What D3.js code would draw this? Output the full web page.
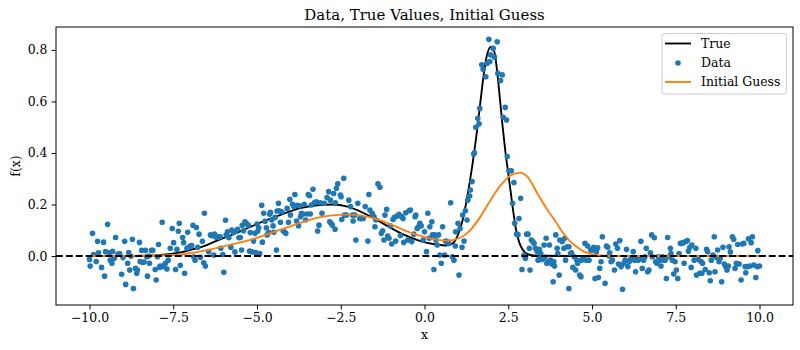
<!DOCTYPE html>
<html>
<head>
<meta charset="utf-8">
<script src="https://cdn.jsdelivr.net/npm/d3@7"></script>
<style>
  html, body { margin: 0; padding: 0; background: #fff; }
  svg { display: block; }
  text { font-family: "DejaVu Serif", serif; }
</style>
</head>
<body>
<div id="chart"></div>
<script>
// ---------------- data ----------------
const chartTitle = "Data, True Values, Initial Guess";
const xLabel = "x";
const yLabel = "f(x)";
const xTicks = [-10, -7.5, -5, -2.5, 0, 2.5, 5, 7.5, 10];
const yTicks = [0.0, 0.2, 0.4, 0.6, 0.8];
const legendLabels = ["True", "Data", "Initial Guess"];

// noisy observations [x, f(x)]
const dataPoints = [
[-10.00,-0.013],[-9.91,0.088],[-9.98,-0.039],[-9.88,0.006],[-9.80,-0.021],[-9.76,0.057],[-9.73,0.013],[-9.64,-0.044],[-9.58,0.054],[-9.55,-0.078],
[-9.52,0.017],[-9.46,0.123],[-9.40,0.013],[-9.38,-0.016],[-9.33,-0.028],[-9.31,0.018],[-9.26,-0.009],[-9.22,0.072],[-9.15,0.008],[-9.10,0.010],
[-9.04,-0.071],[-9.00,-0.006],[-8.95,0.057],[-8.92,-0.110],[-8.86,-0.028],[-8.83,0.014],[-8.80,-0.054],[-8.76,-0.001],[-8.72,0.065],[-8.69,-0.126],
[-8.63,-0.048],[-8.59,-0.067],[-8.57,-0.054],[-8.51,0.053],[-8.49,-0.021],[-8.44,0.022],[-8.41,-0.025],[-8.37,-0.023],[-8.33,0.022],[-8.29,-0.003],
[-8.27,-0.078],[-8.23,0.000],[-8.21,-0.028],[-8.15,0.022],[-8.11,0.022],[-8.04,-0.052],[-8.01,-0.093],[-7.97,-0.003],[-7.94,0.045],[-7.91,-0.044],
[-7.89,-0.039],[-7.83,0.131],[-7.81,-0.041],[-7.77,-0.035],[-7.73,-0.028],[-7.69,-0.050],[-7.65,-0.016],[-7.59,0.030],[-7.53,0.107],[-7.49,0.052],
[-7.43,-0.052],[-7.39,0.026],[-7.35,0.096],[-7.32,0.127],[-7.29,-0.036],[-7.22,0.072],[-7.19,0.052],[-7.16,-0.067],[-7.09,0.030],[-7.07,0.092],
[-7.03,0.034],[-6.99,0.039],[-6.95,0.041],[-6.91,0.119],[-6.89,-0.003],[-6.85,-0.016],[-6.81,0.111],[-6.77,0.034],[-6.73,0.085],[-6.69,-0.005],
[-6.63,0.057],[-6.57,0.166],[-6.59,-0.026],[-6.54,-0.039],
[-6.44,0.017],[-6.39,0.082],[-6.34,0.079],[-6.29,0.004],[-6.27,0.085],[-6.24,0.078],[-6.21,0.072],[-6.18,0.072],[-6.15,0.075],[-6.10,0.075],
[-6.08,0.030],[-6.02,0.006],[-5.99,-0.063],[-5.94,0.139],[-5.92,0.082],[-5.88,0.094],[-5.84,0.071],[-5.78,0.034],[-5.75,0.101],[-5.70,0.091],
[-5.66,0.016],[-5.62,0.096],[-5.58,0.104],[-5.54,0.071],[-5.50,0.072],[-5.46,0.023],[-5.44,0.119],[-5.40,0.098],[-5.36,0.133],[-5.32,0.127],
[-5.26,0.120],[-5.22,0.019],[-5.20,0.091],[-5.15,0.016],[-5.10,0.058],[-5.06,0.088],[-5.04,0.014],[-5.00,0.124],[-4.98,0.096],[-4.95,0.110],
[-4.92,0.010],[-4.86,0.197],[-4.84,0.054],[-4.80,0.166],[-4.76,0.135],[-4.72,0.110],[-4.70,0.082],[-4.65,0.091],[-4.62,0.162],[-4.60,0.170],
[-4.56,0.140],[-4.52,0.117],[-4.50,0.092],[-4.46,0.150],[-4.42,0.023],[-4.40,0.175],[-4.36,0.205],[-4.34,0.176],[-4.30,0.131],[-4.26,0.172],
[-4.22,0.098],[-4.18,0.093],[-4.14,0.088],[-4.10,0.185],[-4.06,0.131],[-4.02,0.220],[-4.00,0.159],[-3.94,0.201],[-3.90,0.192],[-3.87,0.239],
[-3.82,0.136],[-3.80,0.197],[-3.76,0.117],[-3.73,0.195],[-3.70,0.153],[-3.67,0.166],[-3.63,0.162],[-3.59,0.201],[-3.55,0.140],[-3.51,0.163],
[-3.47,0.239],[-3.43,0.234],[-3.41,0.163],[-3.38,0.198],[-3.33,0.259],[-3.29,0.207],[-3.23,0.211],[-3.19,0.097],[-3.15,0.120],[-3.11,0.207],
[-3.06,0.166],[-2.99,0.205],
[-2.91,0.227],[-2.86,0.250],[-2.81,0.217],[-2.71,0.243],[-2.66,0.207],[-2.63,0.263],[-2.59,0.280],[-2.51,0.237],[-2.49,0.230],[-2.41,0.302],
[-2.83,0.133],[-2.79,0.127],[-2.75,0.120],[-2.67,0.104],[-2.47,0.142],[-2.39,0.159],[-2.33,0.159],[-2.26,0.217],[-2.21,0.192],[-2.15,0.159],
[-2.13,0.136],[-2.08,0.159],[-2.05,0.062],[-1.99,0.205],[-1.93,0.146],[-1.89,0.146],[-1.83,0.146],[-1.77,0.192],[-1.69,0.058],[-1.66,0.239],
[-1.63,0.179],[-1.56,0.166],[-1.51,0.153],[-1.48,0.114],[-1.45,0.140],[-1.39,0.280],[-1.33,0.267],[-1.29,0.088],[-1.25,0.098],[-1.21,0.062],
[-1.18,0.159],[-1.13,0.181],[-1.10,0.078],[-1.06,0.069],[-1.02,0.117],[-0.98,0.047],[-0.94,0.142],[-0.90,0.150],[-0.86,0.058],[-0.82,0.155],
[-0.76,0.162],[-0.72,0.080],[-0.68,0.153],[-0.64,0.146],[-0.62,0.053],[-0.56,0.168],[-0.50,0.062],[-0.46,0.176],[-0.42,0.179],[-0.38,0.056],
[-0.32,0.085],[-0.28,0.153],[-0.26,0.159],[-0.22,0.107],[-0.18,0.114],[-0.14,0.127],[-0.10,0.117],[-0.04,0.062],[0.00,0.094],[0.06,0.017],
[0.10,0.166],[0.14,0.069],[0.16,0.114],[0.22,0.133],[0.24,0.082],[0.28,-0.052],[0.30,0.082],[0.34,0.062],[0.38,0.043],[0.42,0.082],
[0.46,0.004],[0.50,-0.028],[0.54,0.114],[0.60,0.004],
[0.63,0.058],[0.68,0.056],[0.73,0.049],[0.78,0.207],[0.83,-0.003],[0.88,-0.016],[0.92,0.039],[0.93,0.094],[1.00,0.127],[1.03,-0.074],
[1.06,0.107],[1.12,0.034],[1.14,0.159],[1.18,0.058],[1.22,0.176],[1.27,0.140],[1.29,0.217],[1.35,0.233],[1.37,0.256],[1.42,0.289],
[1.47,0.396],[1.49,0.401],[1.53,0.500],[1.59,0.535],[1.63,0.513],[1.65,0.573],[1.71,0.742],[1.75,0.725],[1.83,0.696],[1.87,0.748],
[1.92,0.841],[1.95,0.755],[1.97,0.781],[2.05,0.806],[2.09,0.772],[2.17,0.832],[2.19,0.709],[2.27,0.681],[2.32,0.703],[2.35,0.539],
[2.41,0.577],[2.45,0.528],[2.47,0.386],
[2.52,0.331],[2.59,0.331],[2.67,0.285],[2.63,0.205],[2.69,0.127],[2.75,0.085],[2.82,0.146],[2.87,0.224],[2.79,0.083],[2.91,-0.052],
[2.97,0.004],[3.01,-0.009],[3.05,0.085],[3.09,0.085],[3.13,0.030],[3.15,-0.054],[3.19,0.062],[3.23,0.056],[3.27,0.049],[3.31,0.030],
[3.35,0.023],[3.37,0.017],[3.39,-0.016],[3.43,0.026],[3.45,-0.009],[3.47,0.010],[3.51,-0.013],[3.55,-0.009],[3.57,0.043],[3.59,-0.005],
[3.63,0.069],[3.65,-0.028],[3.69,-0.022],[3.73,0.043],[3.76,-0.016],[3.80,-0.031],[3.84,-0.100],[3.86,-0.022],[3.88,-0.039],[3.92,0.082],
[3.96,0.030],[3.98,0.010],[4.02,-0.074],[4.04,0.062],
[4.11,0.056],[4.16,0.030],[4.19,0.069],[4.21,-0.016],[4.26,0.036],[4.31,0.036],[4.31,-0.126],[4.36,0.010],[4.39,0.013],[4.43,-0.044],
[4.47,-0.003],[4.51,-0.054],[4.55,-0.016],[4.57,-0.028],[4.63,-0.074],[4.67,-0.080],[4.69,-0.016],[4.73,-0.009],[4.79,0.049],[4.83,-0.016],
[4.87,0.039],[4.91,-0.016],[4.96,0.023],[5.01,0.023],[5.05,0.034],[5.09,0.026],[5.09,-0.087],[5.13,0.017],[5.17,0.032],[5.19,-0.083],
[5.23,-0.048],[5.27,-0.022],[5.31,0.075],[5.39,-0.106],[5.43,0.039],[5.47,0.034],[5.51,0.000],[5.53,0.013],[5.57,-0.022],[5.61,-0.016],
[5.67,-0.054],[5.71,0.047],[5.76,0.030],[5.79,-0.031],[5.83,0.060],[5.87,-0.041],[5.91,-0.129],[5.95,-0.028],[5.99,-0.016],[6.03,0.026],
[6.07,-0.041],[6.11,-0.022],[6.15,-0.013],[6.19,-0.009],[6.23,0.017],[6.27,-0.016],[6.30,-0.061],[6.34,-0.009],[6.38,-0.016],[6.42,-0.009],
[6.46,0.057],[6.50,-0.048],[6.54,-0.016],[6.58,-0.003],[6.62,0.030],[6.66,-0.061],[6.70,-0.054],[6.74,0.013],[6.78,0.082],[6.80,-0.003],
[6.86,0.071],[6.90,-0.022],[6.94,-0.028],[6.98,-0.003],[7.02,-0.016],[7.06,-0.039],[7.10,-0.003],[7.14,-0.016],[7.18,-0.016],[7.22,-0.087],
[7.26,0.072],[7.30,-0.003],[7.34,0.030],[7.36,0.010],[7.40,-0.016],[7.44,-0.070],[7.48,-0.022],[7.52,-0.054],[7.56,-0.087],[7.60,0.010],
[7.64,0.049],
[7.68,0.049],[7.72,0.052],[7.75,-0.028],[7.80,0.056],[7.85,0.060],[7.88,0.019],[7.92,0.034],[7.96,-0.044],[7.98,0.043],[8.05,-0.016],
[8.10,0.030],[8.12,-0.074],[8.18,-0.013],[8.22,-0.067],[8.26,-0.022],[8.28,-0.067],[8.30,-0.028],[8.38,-0.052],[8.42,0.026],[8.45,0.017],
[8.50,-0.065],[8.53,-0.096],[8.56,-0.016],[8.61,0.004],[8.65,0.075],[8.67,-0.061],[8.71,-0.005],[8.75,0.023],[8.79,-0.022],[8.83,-0.009],
[8.87,-0.100],[8.91,0.034],[8.95,-0.031],[8.99,-0.041],[9.03,-0.054],[9.07,-0.039],[9.09,0.036],[9.13,0.016],[9.19,0.075],[9.23,0.065],
[9.27,-0.048],[9.31,-0.028],[9.35,0.045],[9.39,-0.031],[9.45,-0.093],[9.49,0.047],[9.53,0.049],[9.57,-0.041],[9.59,-0.065],[9.63,-0.041],
[9.67,0.067],[9.71,-0.039],[9.75,0.052],[9.79,0.075],[9.83,-0.035],[9.89,-0.083],[9.93,-0.041],[9.95,0.021],[10.00,-0.039]
];

// true function [x, f(x)]
const trueCurve = [
[-10,0.000],[-9,0.000],[-8.3,0.001],[-7.8,0.005],[-7.3,0.014],[-6.9,0.027],[-6.54,0.040],[-6.19,0.060],
[-5.7,0.085],[-5.2,0.113],[-4.7,0.140],[-4.2,0.165],[-3.71,0.186],[-3.21,0.197],[-2.75,0.200],[-2.3,0.192],
[-1.9,0.172],[-1.5,0.146],[-1.1,0.116],[-0.62,0.083],[-0.12,0.058],[0.38,0.044],[0.63,0.041],[0.83,0.048],
[0.98,0.076],[1.13,0.135],[1.27,0.225],[1.42,0.345],[1.57,0.489],[1.67,0.599],[1.77,0.706],[1.87,0.783],
[1.99,0.813],[2.09,0.790],[2.17,0.715],[2.25,0.612],[2.33,0.505],[2.41,0.410],[2.49,0.330],[2.57,0.252],
[2.65,0.172],[2.73,0.104],[2.83,0.052],[2.95,0.021],[3.1,0.006],[3.4,0.001],[5,0.000],[10,0.000]
];

// initial guess [x, f(x)]
const guessCurve = [
[-10,0.000],[-8.5,0.001],[-7.5,0.004],[-7.0,0.011],[-6.54,0.022],[-6.19,0.032],[-5.7,0.047],[-5.2,0.063],
[-4.7,0.084],[-4.2,0.106],[-3.71,0.129],[-3.21,0.148],[-2.75,0.158],[-2.4,0.161],[-2.11,0.160],[-1.61,0.150],
[-1.1,0.128],[-0.62,0.101],[-0.12,0.078],[0.38,0.063],[0.7,0.060],[1.08,0.072],[1.37,0.101],[1.67,0.153],
[1.97,0.217],[2.27,0.274],[2.57,0.313],[2.85,0.324],[3.07,0.308],[3.37,0.243],[3.67,0.179],[3.91,0.135],
[4.11,0.094],[4.31,0.062],[4.51,0.039],[4.71,0.021],[4.91,0.010],[5.21,0.003],[5.6,0.000],[10,0.000]
];

// ---------------- drawing ----------------
const W = 800, H = 350;
const plot = { left: 56, right: 793, top: 27, bottom: 305 };
const C_BLUE = "#1f77b4", C_ORANGE = "#ff7f0e";
const FONT = "'DejaVu Serif', 'Liberation Serif', serif";
const FS = 12.45;         // tick / label / legend text
const FS_TITLE = 15;
const LW = 1.87;          // line width
const R = 2.8;            // marker radius

const svg = d3.select("#chart").append("svg")
  .attr("width", W).attr("height", H).attr("viewBox", `0 0 ${W} ${H}`)
  .attr("font-family", FONT);
svg.append("rect").attr("width", W).attr("height", H).attr("fill", "#fff");

const x = d3.scaleLinear().domain([-11, 11]).range([plot.left, plot.right]);
const y = d3.scaleLinear().domain([-0.19, 0.889]).range([plot.bottom, plot.top]);

svg.append("clipPath").attr("id", "clip").append("rect")
  .attr("x", plot.left).attr("y", plot.top)
  .attr("width", plot.right - plot.left).attr("height", plot.bottom - plot.top);

const g = svg.append("g").attr("clip-path", "url(#clip)");

const line = d3.line().x(d => x(d[0])).y(d => y(d[1])).curve(d3.curveMonotoneX);

g.append("path").datum(trueCurve).attr("d", line)
  .attr("fill", "none").attr("stroke", "#000").attr("stroke-width", LW)
  .attr("stroke-linejoin", "round").attr("stroke-linecap", "square");

g.append("g").selectAll("circle").data(dataPoints).join("circle")
  .attr("cx", d => x(d[0])).attr("cy", d => y(d[1])).attr("r", R)
  .attr("fill", C_BLUE);

g.append("path").datum(guessCurve).attr("d", line)
  .attr("fill", "none").attr("stroke", C_ORANGE).attr("stroke-width", LW)
  .attr("stroke-linejoin", "round").attr("stroke-linecap", "square");

// zero reference line
g.append("line")
  .attr("x1", plot.left).attr("x2", plot.right)
  .attr("y1", y(0)).attr("y2", y(0))
  .attr("stroke", "#000").attr("stroke-width", LW)
  .attr("stroke-dasharray", "6.9,3");

// axes
const fmt = d3.format(".1f");
const xAxis = d3.axisBottom(x).tickValues(xTicks).tickFormat(fmt).tickSize(4.4).tickPadding(4.2);
const yAxis = d3.axisLeft(y).tickValues(yTicks).tickFormat(fmt).tickSize(4.4).tickPadding(4.2);

const gx = svg.append("g").attr("transform", `translate(0,${plot.bottom})`).call(xAxis);
const gy = svg.append("g").attr("transform", `translate(${plot.left},0)`).call(yAxis);
[gx, gy].forEach(a => {
  a.attr("font-family", FONT).attr("font-size", FS);
  a.select(".domain").remove();
  a.selectAll(".tick line").attr("stroke", "#000").attr("stroke-width", 1);
  a.selectAll(".tick text").attr("fill", "#000");
});

// frame
svg.append("rect")
  .attr("x", plot.left).attr("y", plot.top)
  .attr("width", plot.right - plot.left).attr("height", plot.bottom - plot.top)
  .attr("fill", "none").attr("stroke", "#000").attr("stroke-width", 1);

// title & labels
svg.append("text").attr("x", (plot.left + plot.right) / 2).attr("y", 19.5)
  .attr("text-anchor", "middle").attr("font-size", FS_TITLE).text(chartTitle);
svg.append("text").attr("x", (plot.left + plot.right) / 2).attr("y", 339)
  .attr("text-anchor", "middle").attr("font-size", FS).text(xLabel);
svg.append("text")
  .attr("transform", `translate(20,${(plot.top + plot.bottom) / 2}) rotate(-90)`)
  .attr("text-anchor", "middle").attr("font-size", FS).text(yLabel);

// legend
const lg = svg.append("g");
lg.append("rect").attr("x", 662).attr("y", 33.5).attr("width", 124.5).attr("height", 60.5)
  .attr("rx", 2.5).attr("fill", "#fff").attr("fill-opacity", 0.8)
  .attr("stroke", "#cccccc").attr("stroke-width", 1);
const rows = [43.5, 63, 82];
const swatches = [
  { type: "line", color: "#000" },
  { type: "dot", color: C_BLUE },
  { type: "line", color: C_ORANGE }
];
legendLabels.forEach((lab, i) => {
  const sw = swatches[i], cy = rows[i];
  if (sw.type === "line") {
    lg.append("line").attr("x1", 665).attr("x2", 691).attr("y1", cy).attr("y2", cy)
      .attr("stroke", sw.color).attr("stroke-width", LW);
  } else {
    lg.append("circle").attr("cx", 678).attr("cy", cy).attr("r", R).attr("fill", sw.color);
  }
  lg.append("text").attr("x", 701).attr("y", cy + 4.4)
    .attr("font-size", FS).text(lab);
});
</script>
</body>
</html>
